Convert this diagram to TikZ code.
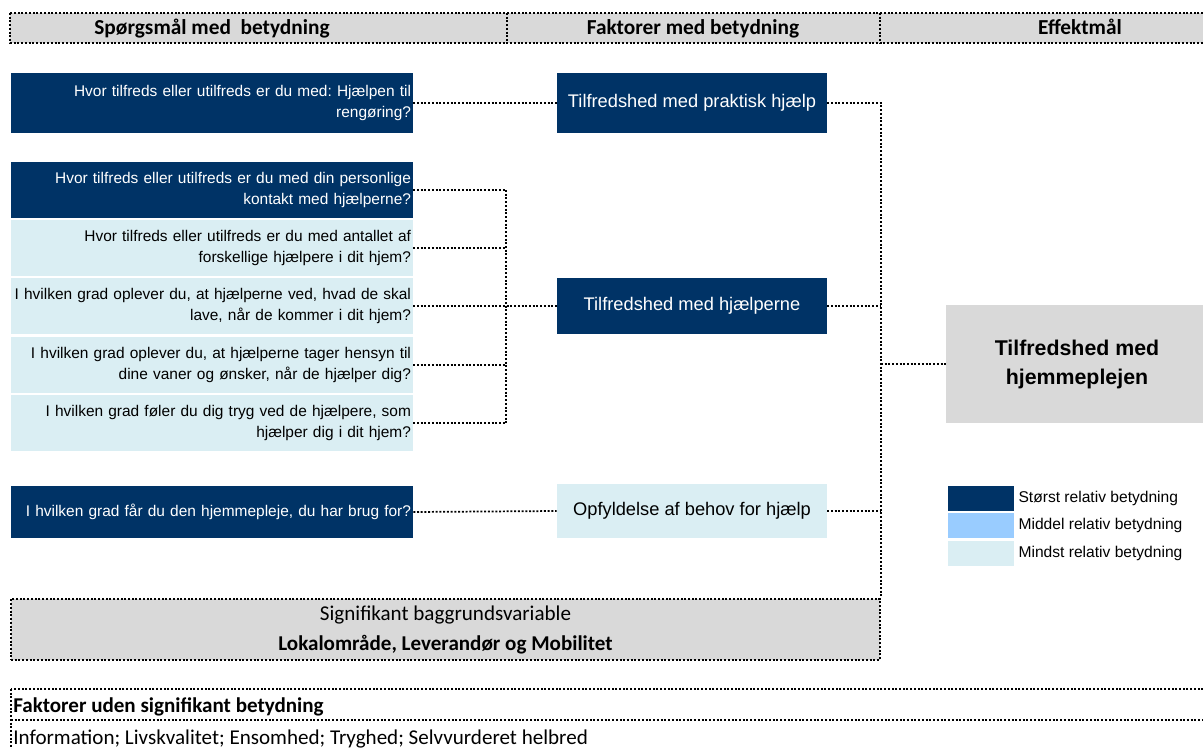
\documentclass[tikz,border=0pt]{standalone}
\usepackage{fontspec}
\setmainfont{Liberation Sans}
\newfontfamily\calibri{Carlito}
\usepackage{xcolor}
\usetikzlibrary{positioning}
\definecolor{navy}{HTML}{003366}
\definecolor{midblue}{HTML}{99CCFF}
\definecolor{paleblue}{HTML}{DAEEF3}
\definecolor{lightgrey}{HTML}{D9D9D9}
\frenchspacing

\begin{document}
\begin{tikzpicture}[x=0.75pt,y=0.75pt,yscale=-1,xscale=1,
  dots/.style={line width=1.3pt,dash pattern=on 1.5pt off 1.3pt},
  hdr/.style={inner sep=0pt,anchor=base,font=\calibri\bfseries\fontsize{16}{19}\selectfont},
  qbox/.style={inner xsep=1.5pt,inner ysep=0pt,text width=298.5pt,align=right,minimum height=42pt,font=\fontsize{11.6}{16.3}\selectfont},
  qdark/.style={qbox,fill=navy,text=white},
  qpale/.style={qbox,fill=paleblue,text=black},
  fbox/.style={inner sep=0pt,minimum width=202.5pt,align=center,font=\fontsize{13.7}{16}\selectfont},
  fdark/.style={fbox,fill=navy,text=white},
  fpale/.style={fbox,fill=paleblue,text=black},
  lgd/.style={inner sep=0pt,minimum width=49.5pt,minimum height=18.75pt},
  lgdtxt/.style={inner sep=0pt,font=\fontsize{11.7}{14}\selectfont},
  ftxt/.style={inner sep=0pt,font=\calibri\fontsize{15.8}{19}\selectfont}]
\useasboundingbox (0,0) rectangle (1203,749);

\draw[dots,fill=lightgrey] (10,13) rectangle (1215,43);
\draw[dots] (507,13) -- (507,43) (880,13) -- (880,43);
\node[hdr] (h1) at (212,35) {Spørgsmål med\ \ betydning};
\node[hdr] (h2) at (693,35) {Faktorer med betydning};
\node[hdr] (h3) at (1080,35) {Effektmål};

\node[qdark,minimum height=45pt] (q1) at (212,103) {Hvor tilfreds eller utilfreds er du med: Hjælpen til\\rengøring?};
\node[qdark] (q2) at (212,190) {Hvor tilfreds eller utilfreds er du med din personlige\\kontakt med hjælperne?};
\node[qpale] (q3) at (212,248) {Hvor tilfreds eller utilfreds er du med antallet af\\forskellige hjælpere i dit hjem?};
\node[qpale] (q4) at (212,306) {I hvilken grad oplever du, at hjælperne ved, hvad de skal\\lave, når de kommer i dit hjem?};
\node[qpale] (q5) at (212,365) {I hvilken grad oplever du, at hjælperne tager hensyn til\\dine vaner og ønsker, når de hjælper dig?};
\node[qpale] (q6) at (212,423) {I hvilken grad føler du dig tryg ved de hjælpere, som\\hjælper dig i dit hjem?};
\node[qdark,minimum height=39pt] (q7) at (212,512) {I hvilken grad får du den hjemmepleje, du har brug for?};

\node[fdark,minimum height=45pt] (praktisk) at (692,103) {Tilfredshed med praktisk hjælp};
\node[fdark,minimum height=42pt] (hjaelp) at (692,306) {Tilfredshed med hjælperne};
\node[fpale,minimum height=40.5pt] (behov) at (692,511) {Opfyldelse af behov for hjælp};

\node[fill=lightgrey,inner sep=0pt,minimum width=196.5pt,minimum height=88.5pt,align=center,font=\bfseries\fontsize{16}{21.75}\selectfont] (effekt) at (1077,364) {Tilfredshed med\\hjemmeplejen};

\node[dots,draw,fill=lightgrey,inner sep=0pt,minimum width=651.75pt,minimum height=45.75pt,align=center,font=\calibri\fontsize{15.8}{22.5}\selectfont] (baggrund) at (445.5,629.5) {Signifikant baggrundsvariable\\\textbf{Lokalområde, Leverandør og Mobilitet}};

\coordinate (qbus) at (506,306);
\draw[dots] (q1.east) -- (praktisk.west);
\foreach \q in {q2,q3,q5,q6}
  \draw[dots] (\q.east) -- (\q.east -| qbus);
\draw[dots] (q2.east -| qbus) -- (q6.east -| qbus);
\draw[dots] (q4.east) -- (hjaelp.west);
\draw[dots] (q7.east) -- (behov.west);
\draw[dots] (praktisk.east) -- (praktisk.east -| baggrund.east) -- (baggrund.north east);
\draw[dots] (hjaelp.east) -- (hjaelp.east -| baggrund.east);
\draw[dots] (behov.east) -- (behov.east -| baggrund.east);
\draw[dots] (effekt.west -| baggrund.east) -- (effekt.west);

\node[lgd,fill=navy] (l1) at (981,498.5) {};
\node[lgd,fill=midblue] (l2) at (981,525) {};
\node[lgd,fill=paleblue] (l3) at (981,553.5) {};
\node[lgdtxt,right=3pt of l1] (t1) {Størst relativ betydning};
\node[lgdtxt,right=3pt of l2] (t2) {Middel relativ betydning};
\node[lgdtxt,right=3pt of l3] (t3) {Mindst relativ betydning};

\draw[dots] (11,689) rectangle (1215,770);
\draw[dots] (11,720) -- (1215,720);
\node[ftxt,anchor=west,font=\calibri\bfseries\fontsize{15.8}{19}\selectfont] (uden) at (13,707) {Faktorer uden signifikant betydning};
\node[ftxt,anchor=west] (liste) at (13,739) {Information; Livskvalitet; Ensomhed; Tryghed; Selvvurderet helbred};
\end{tikzpicture}
\end{document}
